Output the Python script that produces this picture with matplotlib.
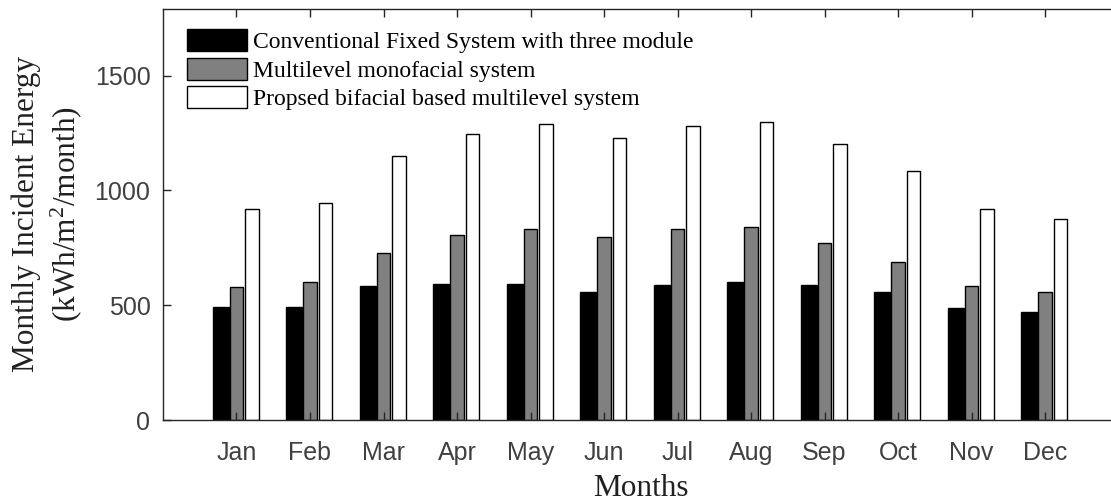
import matplotlib
matplotlib.use("Agg")
import matplotlib.pyplot as plt
import numpy as np

months = ["Jan", "Feb", "Mar", "Apr", "May", "Jun",
          "Jul", "Aug", "Sep", "Oct", "Nov", "Dec"]
conventional = [491, 491, 585, 592, 594, 559, 587, 602, 587, 559, 489, 471]
monofacial = [580, 600, 729, 804, 833, 798, 833, 841, 772, 687, 585, 557]
bifacial = [919, 944, 1151, 1246, 1289, 1228, 1282, 1298, 1203, 1083, 919, 877]
series_names = ["Conventional Fixed System with three module",
                "Multilevel monofacial system",
                "Propsed bifacial based multilevel system"]
yticks = [0, 500, 1000, 1500]

plt.rcParams["mathtext.fontset"] = "custom"
plt.rcParams["mathtext.rm"] = "Liberation Serif"
plt.rcParams["mathtext.it"] = "Liberation Serif:italic"

SERIF = "Liberation Serif"
SANS = "Liberation Sans"
AXCOL = "#262626"

fig = plt.figure(figsize=(11.11, 5.04), dpi=100)
W, H = 1111, 504
ax = fig.add_axes([163 / W, (504 - 420) / H, 955.5 / W, 411 / H])

x = np.arange(1, len(months) + 1)
ax.bar(x - 0.215, conventional, 0.22, color="black", edgecolor="black",
       linewidth=1.0, label=series_names[0])
ax.bar(x, monofacial, 0.19, color="#808080", edgecolor="black",
       linewidth=1.0, label=series_names[1])
ax.bar(x + 0.21, bifacial, 0.18, color="white", edgecolor="black",
       linewidth=1.0, label=series_names[2])

ax.set_xlim(0, 13)
ax.set_ylim(0, 1790)
ax.set_xticks(x)
ax.set_xticklabels(months)
ax.set_yticks(yticks)

for sp in ax.spines.values():
    sp.set_color(AXCOL)
    sp.set_linewidth(1.0)
ax.tick_params(direction="in", length=6, width=1.0, color=AXCOL,
               top=True, right=True, labelsize=18, labelcolor="#404040")
ax.tick_params(axis="x", pad=15)
ax.tick_params(axis="y", pad=9)
for lab in ax.get_xticklabels() + ax.get_yticklabels():
    lab.set_fontfamily(SANS)

ax.set_xlabel("Months", fontsize=22.5, family=SERIF, color="#202020")
ax.xaxis.set_label_coords(0.5, -0.132)
ax.set_ylabel("Monthly Incident Energy\n(kWh/m$^2$/month)", fontsize=22.5,
              family=SERIF, color="#202020", linespacing=1.25)
ax.yaxis.set_label_coords(-0.083, 0.5)

ax.legend(loc="upper left", bbox_to_anchor=(24 / 955.5, 1 - 20 / 411),
          frameon=False, borderpad=0, borderaxespad=0,
          handlelength=2.55, handleheight=1.05, handletextpad=0.25,
          labelspacing=0.2, prop={"family": SERIF, "size": 17})

fig.savefig("out.png", dpi=100)
